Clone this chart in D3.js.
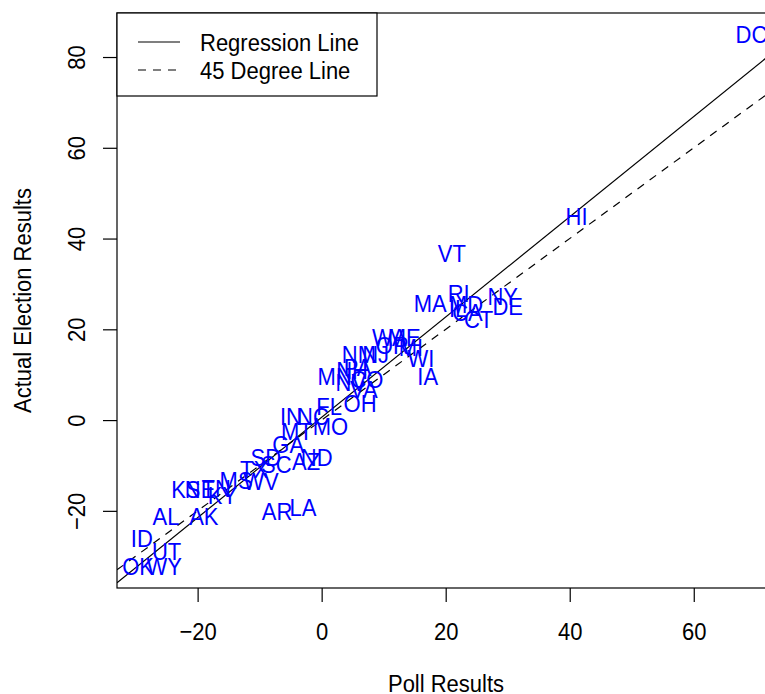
<!DOCTYPE html>
<html>
<head>
<meta charset="utf-8">
<script src="https://cdn.jsdelivr.net/npm/d3@7"></script>
<style>
  body { margin: 0; background: #fff; }
  text { font-family: "Liberation Sans", Arial, Helvetica, sans-serif; }
</style>
</head>
<body>
<svg id="chart" width="765" height="694"></svg>
<script>
// state labels, poll margin (x) and actual margin (y)
var states = ["DC","HI","VT","MA","RI","MD","IL","NY","DE","CA","CT",
  "WA","ME","OR","MI","NM","NJ","NH","WI","MN","PA","NV","CO","VA","IA","FL","OH",
  "IN","NC","MO","MT","GA","SD","SC","AZ","ND","TX","MS","WV","KS","NE","TN","KY",
  "AL","AK","AR","LA","ID","UT","OK","WY"];
var poll = [69.3, 41.1, 21.0, 17.5, 22.1, 23.3, 22.0, 29.2, 30.0, 23.5, 25.3,
  10.9, 13.3, 11.4, 14.4, 6.0, 8.7, 4.9, 16.0, 2.1, 5.8, 4.7, 7.3, 6.8, 17.1, 1.2, 6.2,
  -4.95, -1.4, 1.4, -4.0, -5.4, -9.0, -7.3, -2.5, -0.8, -10.9, -13.8, -9.8, -21.9, -19.6, -17.0, -16.0,
  -25.1, -19.0, -7.2, -3.0, -29.0, -25.0, -29.6, -25.4];
var actual = [85.0, 44.9, 36.8, 25.7, 27.9, 25.6, 24.7, 27.3, 25.0, 23.8, 22.3,
  18.3, 18.3, 16.5, 16.1, 14.4, 14.5, 11.0, 13.7, 9.6, 11.6, 8.3, 9.1, 6.7, 9.7, 3.0, 3.6,
  0.8, 0.8, -1.3, -2.4, -5.3, -8.1, -9.7, -9.1, -8.1, -10.8, -13.2, -13.4, -15.2, -15.2, -15.1, -16.5,
  -21.3, -21.2, -20.1, -19.3, -26.0, -29.0, -32.3, -32.3];

var xTicks = [-20, 0, 20, 40, 60];
var yTicks = [-20, 0, 20, 40, 60, 80];

// fitted line
var regIntercept = 0.6;
var regSlope = 1.105;

var legendLabels = ["Regression Line", "45 Degree Line"];
var legendDash = [null, "8,7"];

var fs = 22;
var stretch = "scale(1,1.1)";   // the reference glyphs are a bit taller than wide
var svg = d3.select("#chart");

var x = d3.scaleLinear().domain([-33, 73.1]).range([117, 775]);
var y = d3.scaleLinear().domain([-37, 89.7]).range([588, 13]);

svg.append("defs").append("clipPath").attr("id", "plotclip")
  .append("rect")
    .attr("x", x.range()[0]).attr("y", y.range()[1])
    .attr("width", x.range()[1] - x.range()[0])
    .attr("height", y.range()[0] - y.range()[1]);

// x axis
var gx = svg.append("g")
  .attr("transform", "translate(0," + y.range()[0] + ")")
  .call(d3.axisBottom(x).tickValues(xTicks).tickSize(14));
gx.select(".domain").remove();
gx.selectAll("line").attr("stroke", "#000").attr("stroke-width", 1.2);
gx.selectAll("text")
  .attr("font-size", fs).attr("font-family", null).attr("fill", "#000")
  .attr("y", 0).attr("dy", "0.36em")
  .attr("transform", "translate(0,43) " + stretch);

// y axis
var gy = svg.append("g")
  .attr("transform", "translate(" + x.range()[0] + ",0)")
  .call(d3.axisLeft(y).tickValues(yTicks).tickSize(14));
gy.select(".domain").remove();
gy.selectAll("line").attr("stroke", "#000").attr("stroke-width", 1.2);
gy.selectAll("text")
  .attr("font-size", fs).attr("font-family", null).attr("fill", "#000")
  .attr("x", 0).attr("y", 0).attr("dy", 0)
  .attr("text-anchor", "middle")
  .attr("transform", "translate(-32,0) rotate(-90) " + stretch);

// plot box
svg.append("rect")
  .attr("x", x.range()[0]).attr("y", y.range()[1])
  .attr("width", x.range()[1] - x.range()[0])
  .attr("height", y.range()[0] - y.range()[1])
  .attr("fill", "none").attr("stroke", "#000").attr("stroke-width", 1.2);

// axis titles
svg.append("text")
  .attr("transform", "translate(" + ((x.range()[0] + x.range()[1]) / 2) + ",683) " + stretch)
  .attr("dy", "0.36em")
  .attr("text-anchor", "middle").attr("font-size", fs)
  .text("Poll Results");
svg.append("text")
  .attr("transform", "translate(31," + ((y.range()[0] + y.range()[1]) / 2) + ") rotate(-90) " + stretch)
  .attr("text-anchor", "middle").attr("font-size", fs)
  .text("Actual Election Results");

var plot = svg.append("g").attr("clip-path", "url(#plotclip)");

// regression and 45 degree lines
var xd = x.domain();
plot.append("line")
  .attr("x1", x(xd[0])).attr("y1", y(regIntercept + regSlope * xd[0]))
  .attr("x2", x(xd[1])).attr("y2", y(regIntercept + regSlope * xd[1]))
  .attr("stroke", "#000").attr("stroke-width", 1.2);
plot.append("line")
  .attr("x1", x(xd[0])).attr("y1", y(xd[0]))
  .attr("x2", x(xd[1])).attr("y2", y(xd[1]))
  .attr("stroke", "#000").attr("stroke-width", 1.2)
  .attr("stroke-dasharray", legendDash[1]);

// state labels
svg.append("g").selectAll("text")
  .data(states)
  .enter()
  .append("text")
    .attr("transform", function(d, i) {
      return "translate(" + x(poll[i]) + "," + y(actual[i]) + ") " + stretch;
    })
    .attr("dy", "0.36em")
    .attr("text-anchor", "middle")
    .attr("font-size", fs)
    .attr("fill", "#0000ff")
    .text(function(d) { return d; });

// legend
var legend = svg.append("g");
legend.append("rect")
  .attr("x", 117).attr("y", 13).attr("width", 260).attr("height", 83)
  .attr("fill", "#fff").attr("stroke", "#000").attr("stroke-width", 1.2);
var items = legend.selectAll("g.item")
  .data(legendLabels)
  .enter()
  .append("g")
    .attr("class", "item")
    .attr("transform", function(d, i) { return "translate(0," + (42 + i * 28) + ")"; });
items.append("line")
  .attr("x1", 138).attr("x2", 180)
  .attr("stroke", "#000").attr("stroke-width", 1.2)
  .attr("stroke-dasharray", function(d, i) { return legendDash[i]; });
items.append("text")
  .attr("transform", "translate(200,0) " + stretch)
  .attr("dy", "0.36em")
  .attr("font-size", fs)
  .text(function(d) { return d; });
</script>
</body>
</html>
